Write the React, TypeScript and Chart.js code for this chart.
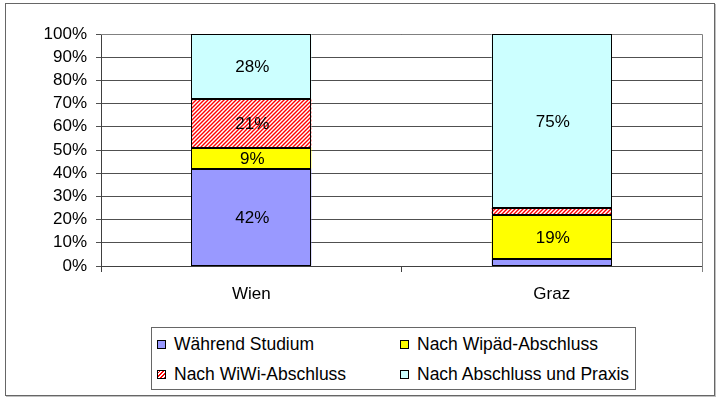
import React, { useEffect, useRef } from "react";
import { Chart, registerables } from "chart.js";

Chart.register(...registerables);

const categories = ["Wien", "Graz"];
const seriesNames = [
  "Während Studium",
  "Nach Wipäd-Abschluss",
  "Nach WiWi-Abschluss",
  "Nach Abschluss und Praxis",
];
const waehrendStudium = [42, 3];
const nachWipaed = [9, 19];
const nachWiWi = [21, 3];
const nachPraxis = [28, 75];
const yTickMin = 0;
const yTickMax = 100;
const yTickStep = 10;
const labelThreshold = 5;

const FONT = "'Liberation Sans', Arial, sans-serif";

function makeHatch(): CanvasPattern | string {
  const c = document.createElement("canvas");
  c.width = 4;
  c.height = 4;
  const g = c.getContext("2d");
  if (!g) return "#ff0000";
  g.fillStyle = "#ffffff";
  g.fillRect(0, 0, 4, 4);
  g.strokeStyle = "#ff0000";
  g.lineWidth = 1.4;
  g.beginPath();
  g.moveTo(-1, 5);
  g.lineTo(5, -1);
  g.moveTo(-1, 1);
  g.lineTo(1, -1);
  g.moveTo(3, 5);
  g.lineTo(5, 3);
  g.stroke();
  const p = g.createPattern(c, "repeat");
  return p || "#ff0000";
}

const frameAndLabels = {
  id: "frameAndLabels",
  beforeDatasetsDraw(chart: any) {
    const { ctx, chartArea } = chart;
    ctx.save();
    ctx.strokeStyle = "#808080";
    ctx.lineWidth = 1;
    ctx.beginPath();
    ctx.moveTo(chartArea.left, chartArea.top + 0.5);
    ctx.lineTo(chartArea.right + 0.5, chartArea.top + 0.5);
    ctx.lineTo(chartArea.right + 0.5, chartArea.bottom + 6);
    ctx.stroke();
    ctx.restore();
  },
  afterDatasetsDraw(chart: any) {
    const { ctx } = chart;
    ctx.save();
    // crisp black outlines for every segment
    ctx.strokeStyle = "#000000";
    ctx.lineWidth = 1;
    chart.data.datasets.forEach((_ds: any, di: number) => {
      const meta = chart.getDatasetMeta(di);
      meta.data.forEach((el: any) => {
        const left = Math.round(el.x - el.width / 2) + 0.5;
        const right = Math.round(el.x + el.width / 2) - 0.5;
        const top = Math.round(Math.min(el.y, el.base)) + 0.5;
        const bottom = Math.round(Math.max(el.y, el.base)) - 0.5;
        ctx.strokeRect(left, top, right - left, bottom - top);
      });
    });
    ctx.fillStyle = "#000000";
    ctx.font = `17px ${FONT}`;
    ctx.textAlign = "center";
    ctx.textBaseline = "middle";
    chart.data.datasets.forEach((ds: any, di: number) => {
      const meta = chart.getDatasetMeta(di);
      meta.data.forEach((el: any, i: number) => {
        const v = ds.data[i];
        if (v < labelThreshold) return;
        const y = (el.y + el.base) / 2;
        ctx.fillText(`${v}%`, el.x + 1, y + 1);
      });
    });
    ctx.restore();
  },
};

const swatchBase: React.CSSProperties = {
  display: "inline-block",
  width: 7,
  height: 7,
  border: "1px solid #000",
  marginRight: 8,
  verticalAlign: "middle",
};

export default function App() {
  const ref = useRef<HTMLCanvasElement | null>(null);

  useEffect(() => {
    if (!ref.current) return;
    const hatch = makeHatch();
    const chart = new Chart(ref.current, {
      type: "bar",
      data: {
        labels: categories,
        datasets: [
          { label: seriesNames[0], data: waehrendStudium, backgroundColor: "#9999ff" },
          { label: seriesNames[1], data: nachWipaed, backgroundColor: "#ffff00" },
          { label: seriesNames[2], data: nachWiWi, backgroundColor: hatch as any },
          { label: seriesNames[3], data: nachPraxis, backgroundColor: "#ccffff" },
        ].map((d) => ({
          ...d,
          borderWidth: 0,
          barPercentage: 0.4,
          categoryPercentage: 1,
        })),
      },
      options: {
        responsive: false,
        animation: false,
        devicePixelRatio: 1,
        layout: { padding: { left: 0, right: 18, top: 34, bottom: 93 } },
        plugins: {
          legend: { display: false },
          tooltip: { enabled: false },
        },
        scales: {
          x: {
            stacked: true,
            offset: true,
            grid: {
              display: true,
              offset: true,
              drawOnChartArea: false,
              drawTicks: true,
              tickLength: 6,
              color: "#404040",
            },
            border: { display: true, color: "#404040", width: 1 },
            ticks: {
              color: "#000000",
              font: { family: FONT, size: 17 },
              padding: 12,
            },
            afterFit(scale: any) {
              scale.height = 40;
            },
          },
          y: {
            stacked: true,
            min: yTickMin,
            max: yTickMax,
            ticks: {
              stepSize: yTickStep,
              autoSkip: false,
              color: "#000000",
              font: { family: FONT, size: 17 },
              padding: 9,
              callback: (v: any) => `${v}%`,
            },
            grid: {
              color: "#505050",
              lineWidth: 1,
              drawTicks: true,
              tickLength: 5,
            },
            border: { display: true, color: "#404040", width: 1 },
            afterFit(scale: any) {
              scale.width = 101;
            },
          },
        },
      },
      plugins: [frameAndLabels],
    });
    return () => chart.destroy();
  }, []);

  const legendItems = [
    { name: seriesNames[0], style: { background: "#9999ff" }, left: 5, top: 5 },
    { name: seriesNames[1], style: { background: "#ffff00" }, left: 248, top: 5 },
    {
      name: seriesNames[2],
      style: {
        background:
          "repeating-linear-gradient(-45deg, #ff0000 0px, #ff0000 1.2px, #ffffff 1.2px, #ffffff 2.6px)",
      },
      left: 5,
      top: 35,
    },
    { name: seriesNames[3], style: { background: "#ccffff" }, left: 248, top: 35 },
  ];

  return (
    <div
      style={{
        position: "fixed",
        left: 0,
        top: 0,
        width: 720,
        height: 399,
        background: "#ffffff",
        overflow: "hidden",
      }}
    >
      <div
        style={{
          position: "absolute",
          left: 5,
          top: 3,
          width: 708,
          height: 391,
          border: "1px solid #666666",
          boxShadow: "1px 1px 0 #c0c0c0",
        }}
      />
      <canvas
        ref={ref}
        width={720}
        height={399}
        style={{ position: "absolute", left: 0, top: 0, width: 720, height: 399 }}
      />
      <div
        style={{
          position: "absolute",
          left: 151,
          top: 327,
          width: 483,
          height: 61,
          border: "1px solid #666666",
          background: "#ffffff",
          fontFamily: FONT,
          fontSize: 17.5,
          color: "#000000",
        }}
      >
        {legendItems.map((it) => (
          <div
            key={it.name}
            style={{
              position: "absolute",
              left: it.left,
              top: it.top,
              whiteSpace: "nowrap",
              lineHeight: "20px",
            }}
          >
            <span style={{ ...swatchBase, ...it.style }} />
            <span style={{ verticalAlign: "middle" }}>{it.name}</span>
          </div>
        ))}
      </div>
    </div>
  );
}
